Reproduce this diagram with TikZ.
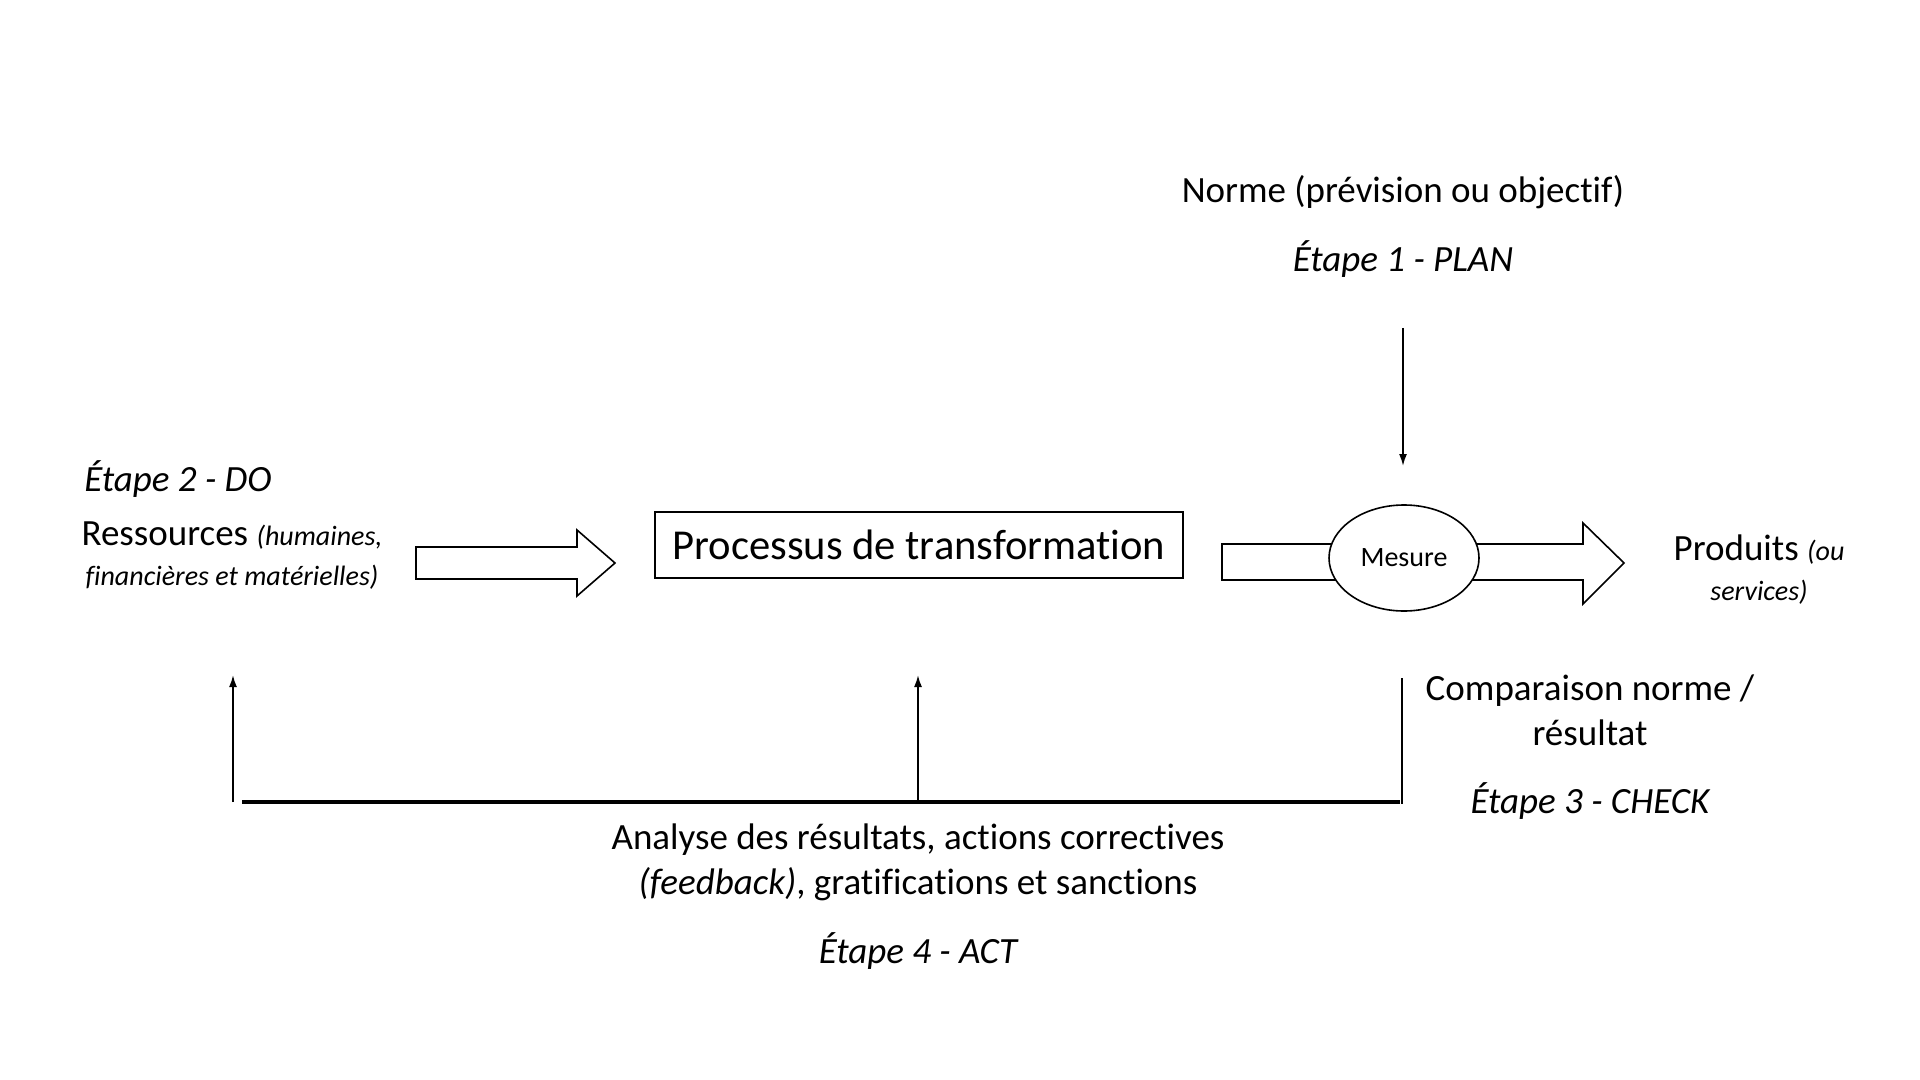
\documentclass[tikz,border=0pt]{standalone}
\usepackage{fontspec}
\setmainfont{Carlito}[Ligatures=NoCommon]
\usetikzlibrary{arrows.meta,shapes.geometric}
\begin{document}
\begin{tikzpicture}[x=0.5pt,y=-0.5pt,
  txt/.style={inner sep=0pt,align=center,font=\fontsize{18.5}{22.5}\selectfont},
  thin line/.style={line width=0.9pt},
  arr/.style={thin line,-{Latex[length=6pt,width=4pt]}},
  blockarrow/.style={line width=0.8pt,draw=black,fill=white,line join=miter}]
\useasboundingbox (0,0) rectangle (1920,1080);
% top texts
\node[txt] (norme) at (1403,192) {Norme (prévision ou objectif)};
\node[txt,font=\fontsize{18.5}{22.5}\selectfont\itshape] (plan) at (1403,259) {Étape 1 - PLAN};
% left texts
\node[txt,font=\fontsize{18.5}{22.5}\selectfont\itshape,anchor=west] (do) at (84,479) {Étape 2 - DO};
\node[txt] (res) at (232,556) {Ressources {\fontsize{14}{17}\selectfont\itshape (humaines,}\\[-2.5pt]{\fontsize{14}{17}\selectfont\itshape financières et matérielles)}};
% block arrow 1
\draw[blockarrow] (416,547) -- (577,547) -- (577,530) -- (615,563) -- (577,596) -- (577,579) -- (416,579) -- cycle;
% process box
\node[draw,line width=0.8pt,minimum width=264pt,minimum height=33pt,inner sep=0pt,font=\fontsize{21.3}{25}\selectfont] (proc) at (919,545) {Processus de transformation};
% block arrow 2
\draw[blockarrow] (1222,544) -- (1583,544) -- (1583,523) -- (1624,563) -- (1583,604) -- (1583,580) -- (1222,580) -- cycle;
\node[ellipse,draw,line width=0.8pt,fill=white,minimum width=75pt,minimum height=53pt,inner sep=0pt,font=\fontsize{14}{17}\selectfont] (mesure) at (1404,558) {Mesure};
% produits
\node[txt] (prod) at (1759,570) {Produits {\fontsize{14}{17}\selectfont\itshape (ou}\\[-2.5pt]{\fontsize{14}{17}\selectfont\itshape services)}};
% plan arrow
\coordinate (pa) at (1403,328);
\coordinate (pb) at (1403,466);
\draw[arr] (pa) -- (pb);
% check texts
\node[txt] (comp) at (1590,710) {Comparaison norme /\\résultat};
\node[txt,font=\fontsize{18.5}{22.5}\selectfont\itshape] (check) at (1590,801) {Étape 3 - CHECK};
% feedback lines
\coordinate (l0) at (233,802);
\coordinate (l1) at (233,675);
\coordinate (m0) at (918,802);
\coordinate (m1) at (918,675);
\coordinate (r0) at (1402,678);
\coordinate (r1) at (1402,804);
\coordinate (h0) at (242,802);
\coordinate (h1) at (1400,802);
\draw[line width=1.6pt] (h0) -- (h1);
\draw[arr] (l0) -- (l1);
\draw[arr] (m0) -- (m1);
\draw[thin line] (r0) -- (r1);
% act texts
\node[txt] (analyse) at (918,862) {Analyse des résultats, actions correctives\\{\itshape(feedback)}, gratifications et sanctions};
\node[txt,font=\fontsize{18.5}{22.5}\selectfont\itshape] (act) at (918,951) {Étape 4 - ACT};
\end{tikzpicture}
\end{document}
